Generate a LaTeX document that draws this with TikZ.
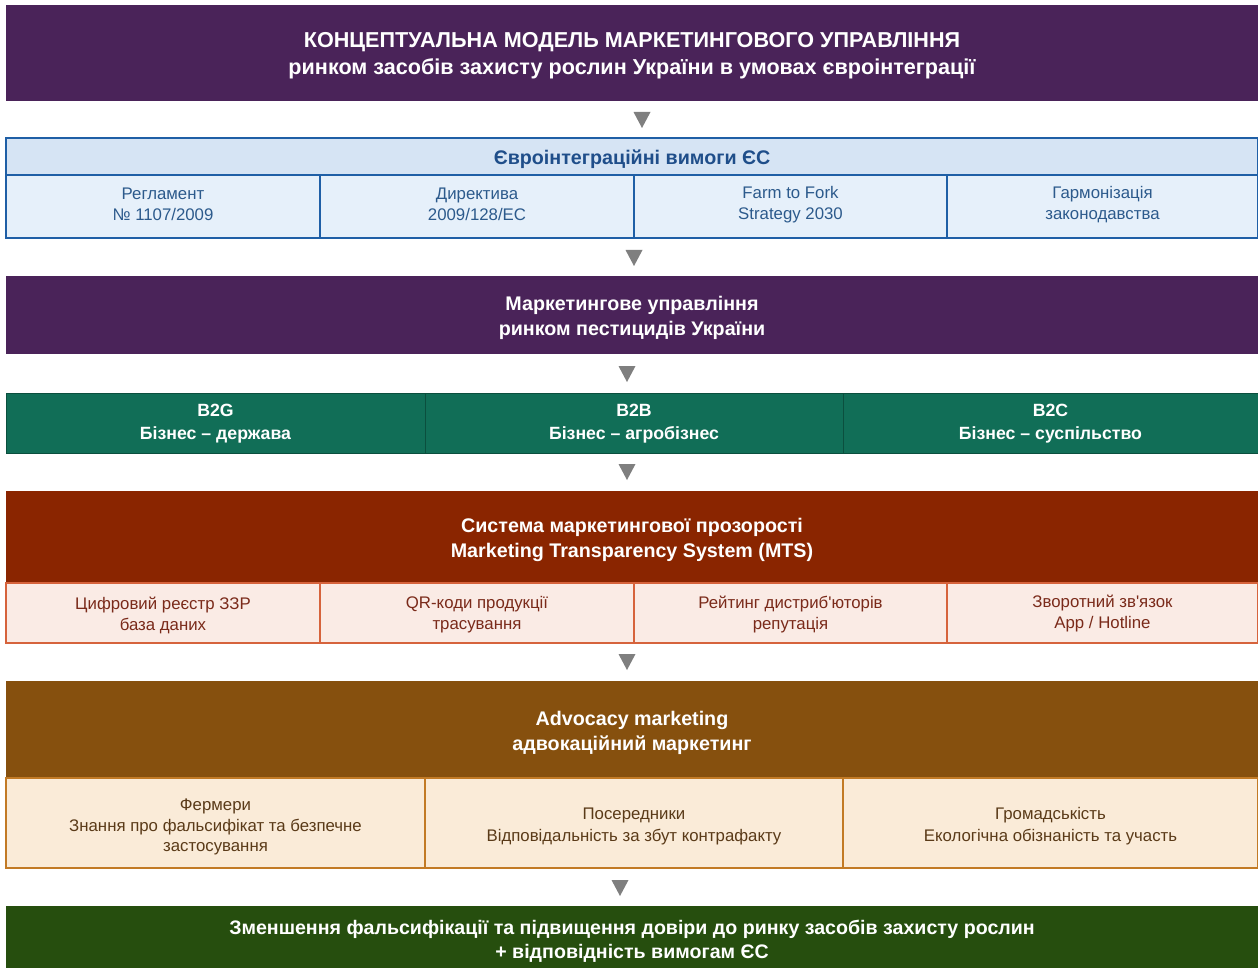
\documentclass[tikz,border=0pt]{standalone}
\usepackage{fontspec}
\setmainfont{Liberation Sans}[Ligatures=TeXOff]
\usetikzlibrary{calc}
\definecolor{purp}{HTML}{4A2359}
\definecolor{eublue}{HTML}{1F5FA6}
\definecolor{euhead}{HTML}{D6E4F4}
\definecolor{eucell}{HTML}{E6F0FA}
\definecolor{eutext}{HTML}{1F4E8A}
\definecolor{eucelltext}{HTML}{2C5A8C}
\definecolor{bgreen}{HTML}{116E57}
\definecolor{bgreenline}{HTML}{0B4F3E}
\definecolor{mtsred}{HTML}{8A2500}
\definecolor{mtscell}{HTML}{FAEBE5}
\definecolor{mtsline}{HTML}{D6633C}
\definecolor{mtstext}{HTML}{7A2A1A}
\definecolor{advbrown}{HTML}{86500E}
\definecolor{advcell}{HTML}{FAEBD8}
\definecolor{advline}{HTML}{C27A25}
\definecolor{advtext}{HTML}{5A3A18}
\definecolor{finalgreen}{HTML}{264E0E}
\definecolor{arrowgray}{HTML}{7F7F7F}
\begin{document}
\begin{tikzpicture}[x=1pt,y=-1pt,
  box/.style 2 args={anchor=north west, inner sep=0pt, outer sep=0pt,
    minimum width=#1pt, minimum height=#2pt},
  tx/.style={inner sep=0pt, outer sep=0pt, align=center},
  titlefont/.style={tx, text=white, font=\bfseries\fontsize{21.6}{27}\selectfont},
  headfont/.style={tx, font=\bfseries\fontsize{19.7}{25}\selectfont},
  cellfont/.style={tx, font=\fontsize{16.8}{21}\selectfont},
  purplebox/.style={fill=purp},
  euheadbox/.style={fill=euhead, draw=eublue, line width=1.5pt},
  eucellbox/.style={fill=eucell, draw=eublue, line width=1.5pt},
  euheadtext/.style={headfont, text=eutext},
  eucelltext/.style={cellfont, text=eucelltext},
  bbox/.style={fill=bgreen, draw=bgreenline, line width=0.8pt},
  btext/.style={tx, text=white, font=\bfseries\fontsize{17.7}{23}\selectfont},
  whitehead/.style={headfont, text=white},
  mtsheadbox/.style={fill=mtsred},
  mtscellbox/.style={fill=mtscell, draw=mtsline, line width=1.5pt},
  mtscelltext/.style={cellfont, text=mtstext},
  advheadbox/.style={fill=advbrown},
  advcellbox/.style={fill=advcell, draw=advline, line width=1.5pt},
  advcelltext/.style={tx, text=advtext, font=\fontsize{16.8}{21.5}\selectfont},
  finalbox/.style={fill=finalgreen},
  finaltext/.style={tx, text=white, font=\bfseries\fontsize{19.6}{24}\selectfont},
  downtri/.style={fill=arrowgray}
]
\useasboundingbox (0,0) rectangle (1258,968);
\fill[white] (0,0) rectangle (1258,968);

% title
\node[box={1252}{96}, purplebox] (title) at (6,5) {};
\node[titlefont] (titletext) at ([yshift=-3pt]title.center)
  {КОНЦЕПТУАЛЬНА МОДЕЛЬ МАРКЕТИНГОВОГО УПРАВЛІННЯ\\ринком засобів захисту рослин України в умовах євроінтеграції};

% EU requirements
\node[box={1252}{37}, euheadbox] (euhead) at (6,138) {};
\node[euheadtext] (euheadtext) at ([yshift=-3pt]euhead.center) {Євроінтеграційні вимоги ЄС};
\node[box={314}{63}, eucellbox] (eu1) at (6,175) {};
\node[box={314}{63}, eucellbox] (eu2) at (320,175) {};
\node[box={313}{63}, eucellbox] (eu3) at (634,175) {};
\node[box={311}{63}, eucellbox] (eu4) at (947,175) {};
\node[eucelltext] (eu1t) at ([yshift=2pt]eu1.center) {Регламент\\№ 1107/2009};
\node[eucelltext] (eu2t) at ([yshift=2pt]eu2.center) {Директива\\2009/128/EC};
\node[eucelltext] (eu3t) at ([yshift=2pt]eu3.center) {Farm to Fork\\Strategy 2030};
\node[eucelltext] (eu4t) at ([yshift=2pt]eu4.center) {Гармонізація\\законодавства};

% marketing management
\node[box={1252}{78}, purplebox] (mgmt) at (6,276) {};
\node[whitehead] (mgmtt) at ([yshift=-2.5pt]mgmt.center)
  {Маркетингове управління\\ринком пестицидів України};

% B2G / B2B / B2C
\node[box={419}{60}, bbox] (b2g) at (6,393) {};
\node[box={418}{60}, bbox] (b2b) at (425,393) {};
\node[box={415}{60}, bbox] (b2c) at (843,393) {};
\node[btext] (b2gt) at ([yshift=-1pt]b2g.center) {B2G\\Бізнес – держава};
\node[btext] (b2bt) at ([yshift=-1pt]b2b.center) {B2B\\Бізнес – агробізнес};
\node[btext] (b2ct) at ([yshift=-1pt]b2c.center) {B2C\\Бізнес – суспільство};

% MTS
\node[box={1252}{92}, mtsheadbox] (mts) at (6,491) {};
\node[whitehead] (mtst) at ([yshift=-3pt]mts.center)
  {Система маркетингової прозорості\\Marketing Transparency System (MTS)};
\node[box={314}{60}, mtscellbox] (mts1) at (6,583) {};
\node[box={314}{60}, mtscellbox] (mts2) at (320,583) {};
\node[box={313}{60}, mtscellbox] (mts3) at (634,583) {};
\node[box={311}{60}, mtscellbox] (mts4) at (947,583) {};
\node[mtscelltext] (mts1t) at ([yshift=-2pt]mts1.center) {Цифровий реєстр ЗЗР\\база даних};
\node[mtscelltext] (mts2t) at ([yshift=-2pt]mts2.center) {QR-коди продукції\\трасування};
\node[mtscelltext] (mts3t) at ([yshift=-2pt]mts3.center) {Рейтинг дистриб'юторів\\репутація};
\node[mtscelltext] (mts4t) at ([yshift=-1pt]mts4.center) {Зворотний зв'язок\\App / Hotline};

% Advocacy
\node[box={1252}{97}, advheadbox] (adv) at (6,681) {};
\node[whitehead] (advt) at ([yshift=-3pt]adv.center)
  {Advocacy marketing\\адвокаційний маркетинг};
\node[box={419}{90}, advcellbox] (adv1) at (6,778) {};
\node[box={418}{90}, advcellbox] (adv2) at (425,778) {};
\node[box={415}{90}, advcellbox] (adv3) at (843,778) {};
\node[advcelltext, font=\fontsize{16.8}{20.5}\selectfont] (adv1t) at ([yshift=-4pt]adv1.center)
  {Фермери\\Знання про фальсифікат та безпечне\\застосування};
\node[advcelltext, font=\fontsize{16.8}{22}\selectfont] (adv2t) at ([yshift=-3.5pt]adv2.center)
  {Посередники\\Відповідальність за збут контрафакту};
\node[advcelltext, font=\fontsize{16.8}{22}\selectfont] (adv3t) at ([yshift=-3.5pt]adv3.center)
  {Громадськість\\Екологічна обізнаність та участь};

% Final
\node[box={1252}{62}, finalbox] (final) at (6,906) {};
\node[finaltext] (finalt) at ([yshift=-4.5pt]final.center)
  {Зменшення фальсифікації та підвищення довіри до ринку засобів захисту рослин\\+ відповідність вимогам ЄС};

% down triangles
\coordinate (t1) at (642,112);
\coordinate (t2) at (634,250);
\coordinate (t3) at (627,366);
\coordinate (t4) at (627,464);
\coordinate (t5) at (627,654);
\coordinate (t6) at (620,880);
\foreach \t in {t1,t2,t3,t4,t5,t6}{
  \fill[downtri] ($(\t)+(-8.5,0)$) -- ($(\t)+(8.5,0)$) -- ($(\t)+(0,16)$) -- cycle;
}
\end{tikzpicture}
\end{document}
